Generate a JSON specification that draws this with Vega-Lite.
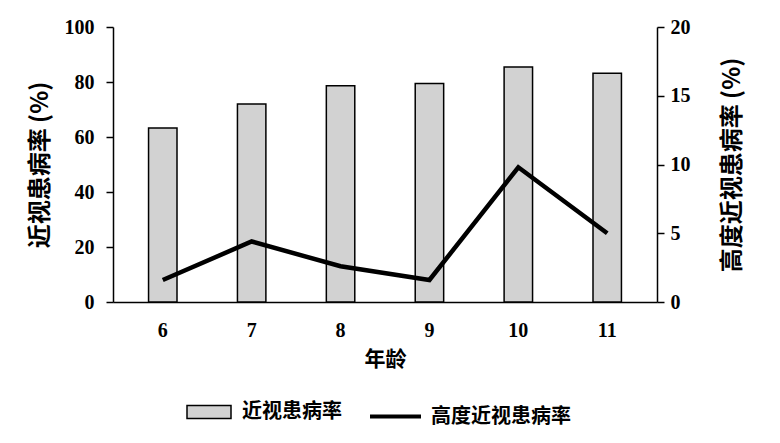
{
  "$schema": "https://vega.github.io/schema/vega-lite/v6.json",
  "width": 544,
  "height": 275,
  "autosize": {"type": "none"},
  "padding": {"left": 113, "top": 27, "right": 123, "bottom": 141},
  "background": "white",
  "config": {
    "view": {"stroke": null},
    "axis": {
      "grid": false,
      "domainColor": "black",
      "domainWidth": 1.5,
      "tickColor": "black",
      "tickWidth": 1.5,
      "tickSize": 7,
      "labelFont": "Liberation Serif",
      "labelFontWeight": "bold",
      "labelFontSize": 20,
      "labelColor": "black",
      "titleFont": "Noto Sans CJK SC",
      "titleFontWeight": "bold",
      "titleFontSize": 24,
      "titleColor": "black"
    },
    "legend": {
      "labelFont": "Noto Sans CJK SC",
      "labelFontWeight": "bold",
      "labelFontSize": 20,
      "labelColor": "black",
      "padding": 0
    }
  },
  "data": {
    "values": [
      {"age": "6", "rate": 63.3, "high": 1.6},
      {"age": "7", "rate": 72.0, "high": 4.4},
      {"age": "8", "rate": 78.6, "high": 2.6},
      {"age": "9", "rate": 79.5, "high": 1.6},
      {"age": "10", "rate": 85.5, "high": 9.8},
      {"age": "11", "rate": 83.2, "high": 5.0}
    ]
  },
  "encoding": {
    "x": {
      "field": "age",
      "type": "ordinal",
      "sort": null,
      "scale": {"paddingInner": 0.68, "paddingOuter": 0.4},
      "axis": {"title": "年龄", "labelAngle": 0, "ticks": false, "labelPadding": 18, "titlePadding": 8, "titleFontSize": 21}
    }
  },
  "layer": [
    {
      "mark": {"type": "bar", "stroke": "black", "strokeWidth": 1.5},
      "encoding": {
        "y": {
          "field": "rate",
          "type": "quantitative",
          "scale": {"domain": [0, 100]},
          "axis": {"title": "近视患病率 (%)", "values": [0, 20, 40, 60, 80, 100], "labelPadding": 12, "titlePadding": 12}
        },
        "fill": {
          "datum": "近视患病率",
          "type": "nominal",
          "scale": {"range": ["#d2d2d2"]},
          "legend": {
            "title": null,
            "orient": "none",
            "legendX": 73,
            "legendY": 362,
            "symbolType": "M-1,-0.3H1V0.3H-1Z",
            "symbolSize": 1936,
            "symbolStrokeColor": "black",
            "symbolStrokeWidth": 1.5,
            "symbolOpacity": 1,
            "labelOffset": 10
          }
        }
      }
    },
    {
      "mark": {"type": "line", "strokeWidth": 4.5},
      "encoding": {
        "y": {
          "field": "high",
          "type": "quantitative",
          "scale": {"domain": [0, 20]},
          "axis": {"title": "高度近视患病率 (%)", "orient": "right", "values": [0, 5, 10, 15, 20], "labelPadding": 6, "titleAngle": 270, "titleBaseline": "top", "titlePadding": 30}
        },
        "stroke": {
          "datum": "高度近视患病率",
          "type": "nominal",
          "scale": {"range": ["black"]},
          "legend": {
            "title": null,
            "orient": "none",
            "legendX": 255,
            "legendY": 362,
            "symbolType": "stroke",
            "symbolSize": 2600,
            "symbolStrokeWidth": 4,
            "symbolStrokeColor": "black",
            "labelOffset": 8
          }
        }
      }
    }
  ],
  "resolve": {"scale": {"y": "independent"}}
}
